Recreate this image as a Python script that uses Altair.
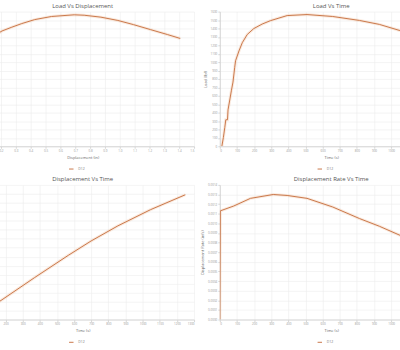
import altair as alt
import pandas as pd

series_name = "D12"
line_color = "#c9774a"
halo_color = "#f2c2a4"

# Load vs Displacement
ld_disp = [0, 0.01, 0.02, 0.04, 0.06, 0.10, 0.15, 0.207, 0.273, 0.34, 0.427, 0.54,
           0.693, 0.76, 0.873, 0.987, 1.093, 1.207, 1.32, 1.407]
ld_load = [0, 250, 520, 900, 1150, 1250, 1310, 1370, 1415, 1458, 1505, 1542,
           1562, 1557, 1534, 1495, 1445, 1386, 1328, 1281]

# Load vs Time
lt_time = [12, 21, 29, 35, 45, 48, 60, 68, 77, 87, 92, 112, 131, 160, 198, 247, 295,
           393, 509, 659, 815, 931, 1046, 1150, 1250]
lt_load = [0, 105, 222, 315, 315, 432, 572, 666, 763, 938, 1016, 1133, 1230, 1328,
           1398, 1452, 1492, 1553, 1565, 1542, 1495, 1448, 1378, 1330, 1280]

# Displacement vs Time
dt_time = [0, 50, 100, 179, 370, 566, 699, 855, 1046, 1249]
dt_disp = [0, 0.06, 0.12, 0.22, 0.468, 0.715, 0.875, 1.043, 1.224, 1.39]

# Displacement Rate vs Time
rt_time = [0, 3, 81, 179, 312, 393, 509, 659, 815, 931, 1046, 1150, 1250]
rt_rate = [0, 0.00113, 0.00118, 0.00126, 0.0013, 0.00129, 0.00126, 0.00117,
           0.00105, 0.00097, 0.00088, 0.0008, 0.00072]

time_ticks = [0, 100, 200, 300, 400, 500, 600, 700, 800, 900, 1000, 1100, 1200, 1300]
disp_ticks = [round(i * 0.1, 1) for i in range(16)]
load_ticks = [i * 100 for i in range(17)]
rate_ticks = [round(i * 0.0001, 4) for i in range(15)]

FONT = "Open Sans"


def panel(xs, ys, title, xtitle, ytitle, xdom, xticks, ydom, yticks, xfmt, yfmt):
    df = pd.DataFrame({"x": xs, "y": ys, "series": [series_name] * len(xs)})
    xenc = alt.X("x:Q", scale=alt.Scale(domain=xdom, nice=False, zero=False),
                 axis=alt.Axis(values=xticks, title=xtitle, format=xfmt))
    yenc = alt.Y("y:Q", scale=alt.Scale(domain=ydom, nice=False, zero=False),
                 axis=alt.Axis(values=yticks, title=ytitle, format=yfmt))
    halo = alt.Chart(df).mark_line(strokeWidth=3, opacity=0.35, clip=True,
                                   color=halo_color).encode(x=xenc, y=yenc)
    main = alt.Chart(df).mark_line(strokeWidth=1, clip=True).encode(
        x=xenc, y=yenc,
        color=alt.Color("series:N", scale=alt.Scale(range=[line_color]),
                        legend=alt.Legend(title=None, orient="none", legendX=98,
                                          legendY=156, symbolType="stroke",
                                          symbolSize=20, symbolStrokeWidth=1,
                                          labelFontSize=3.5, labelColor="#777",
                                          labelFont=FONT)))
    return alt.layer(halo, main).properties(
        width=225, height=136,
        title=alt.Title(title, fontSize=6, font=FONT, color="#555",
                        fontWeight="normal", offset=2))


tl = panel(ld_disp, ld_load, "Load Vs Displacement", "Displacement (in)", "Load (lbf)",
           [0, 1.5], disp_ticks, [0, 1600], load_ticks, ".1f", "d")
tr = panel(lt_time, lt_load, "Load Vs Time", "Time (s)", "Load (lbf)",
           [0, 1300], time_ticks, [0, 1600], load_ticks, "d", "d")
bl = panel(dt_time, dt_disp, "Displacement Vs Time", "Time (s)", "Displacement (in)",
           [0, 1300], time_ticks, [0, 1.5], disp_ticks, "d", ".1f")
br = panel(rt_time, rt_rate, "Displacement Rate Vs Time", "Time (s)",
           "Displacement Rate (in/s)", [0, 1300], time_ticks, [0, 0.0014], rate_ticks,
           "d", ".4f")

chart = alt.concat(tl, tr, bl, br, columns=2,
                   spacing={"row": 5, "column": 5}).resolve_scale(
    color="independent"
).resolve_legend(color="independent").properties(
    padding={"left": -46, "top": 1, "right": -44, "bottom": 0},
    background="#ffffff",
).configure_axis(
    labelFont=FONT, titleFont=FONT, labelFontSize=3, titleFontSize=4,
    labelColor="#999", titleColor="#666", titleFontWeight="normal",
    gridColor="#ececec", gridWidth=0.6, domainColor="#d6d6d6", tickColor="#d6d6d6",
    tickSize=2, labelPadding=1, titlePadding=3,
).configure_view(stroke=None)

chart.save("out.html", embed_options={"renderer": "svg", "actions": False})
